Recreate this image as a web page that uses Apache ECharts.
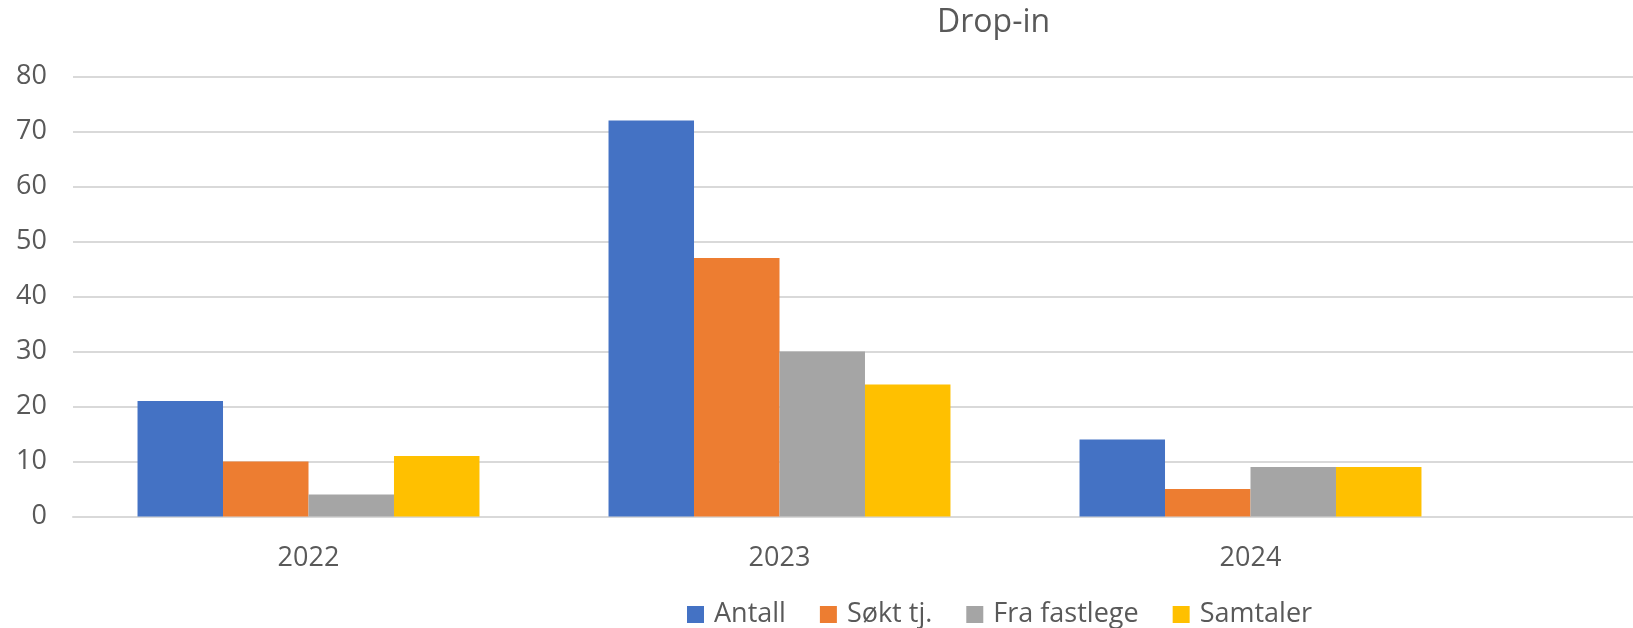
<!DOCTYPE html>
<html>
<head>
<meta charset="utf-8">
<script src="https://cdn.jsdelivr.net/npm/echarts@6/dist/echarts.min.js"></script>
<style>
html,body{margin:0;padding:0;background:#fff;}
#chart{width:1633px;height:628px;}
</style>
</head>
<body>
<div id="chart"></div>
<script>
const titleText = 'Drop-in';
const categories = ['2022', '2023', '2024', ''];
const seriesNames = ['Antall', 'Søkt tj.', 'Fra fastlege', 'Samtaler'];
const antall = [21, 72, 14, null];
const soktTj = [10, 47, 5, null];
const fraFastlege = [4, 30, 9, null];
const samtaler = [11, 24, 9, null];
const yTicks = [0, 10, 20, 30, 40, 50, 60, 70, 80];
const colors = ['#4472C4', '#ED7D31', '#A5A5A5', '#FFC000'];

const seriesData = [antall, soktTj, fraFastlege, samtaler];
const textColor = '#595959';
const font = 'Open Sans';

const chart = echarts.init(document.getElementById('chart'), null, {renderer: 'canvas'});
chart.setOption({
  animation: false,
  backgroundColor: '#ffffff',
  color: colors,
  title: {
    text: titleText,
    left: 932,
    top: 2,
    textStyle: {fontFamily: font, fontSize: 32, fontWeight: 'normal', color: textColor}
  },
  legend: {
    data: seriesNames,
    left: 682,
    top: 596,
    itemWidth: 17,
    itemHeight: 17,
    itemGap: 34,
    icon: 'rect',
    textStyle: {fontFamily: font, fontSize: 27, color: textColor, padding: [0, 0, 0, 5]}
  },
  grid: {
    left: 73,
    top: 76.5,
    bottom: 111.5,
    right: -324,
    outerBoundsMode: 'none',
    containLabel: false
  },
  xAxis: {
    type: 'category',
    data: categories,
    axisLine: {show: true, lineStyle: {color: '#D9D9D9', width: 2}},
    axisTick: {show: false},
    axisLabel: {fontFamily: font, fontSize: 27, color: textColor, margin: 28}
  },
  yAxis: {
    type: 'value',
    min: yTicks[0],
    max: yTicks[yTicks.length - 1],
    interval: yTicks[1] - yTicks[0],
    axisLine: {show: false},
    axisTick: {show: false},
    splitLine: {lineStyle: {color: '#D9D9D9', width: 2}},
    axisLabel: {fontFamily: font, fontSize: 27, color: textColor, margin: 26}
  },
  series: seriesNames.map((name, i) => ({
    name: name,
    type: 'bar',
    data: seriesData[i],
    barGap: '0%',
    barCategoryGap: '27.4%',
    itemStyle: {color: colors[i]}
  }))
});
</script>
</body>
</html>
